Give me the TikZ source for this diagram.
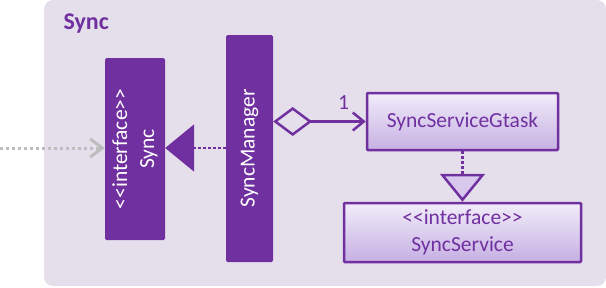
\documentclass[tikz,border=0pt]{standalone}
\usepackage{fontspec}
\setmainfont{Carlito}[Ligatures=TeXOff]
\usetikzlibrary{arrows.meta}
\definecolor{umlpurple}{HTML}{7030A0}
\definecolor{pkgbg}{HTML}{E5DFEC}
\definecolor{boxtop}{HTML}{F1ECF9}
\definecolor{boxbot}{HTML}{C6B0E3}
\definecolor{headfill}{HTML}{D8C8EE}
\definecolor{extgray}{HTML}{BDBDBD}
\tikzset{
  darkclass/.style={draw=none, fill=umlpurple, rounded corners=1.5pt,
    text=white, inner sep=0pt},
  classfont/.style={font=\fontsize{21.5}{27}\selectfont},
  lightclass/.style={draw=umlpurple, line width=2.5pt, top color=boxtop,
    bottom color=boxbot, text=umlpurple, rounded corners=1pt,
    classfont, align=center, inner sep=0pt},
  dotline/.style={umlpurple, line width=2.5pt, dash pattern=on 2.5pt off 2.5pt},
  assoc/.style={umlpurple, line width=2.5pt},
}
\begin{document}
\begin{tikzpicture}[x=1pt, y=-1pt]
\useasboundingbox (0,0) rectangle (606,287);
% package frame
\fill[pkgbg, rounded corners=9pt] (44,0) rectangle (606,286);
\node[anchor=west, text=umlpurple, font=\fontsize{24}{27}\selectfont\bfseries] (pkg) at (60,24) {Sync};

% classes
\node[darkclass, minimum width=60pt, minimum height=182pt] (sync) at (135,149) {};
\node[rotate=90, text=white, align=center, font=\fontsize{21.5}{27}\selectfont] (synclbl) at (sync.center) {<<interface>>\\Sync};
\node[darkclass, minimum width=47pt, minimum height=227pt] (mgr) at (249.5,148.5) {};
\node[rotate=90, text=white, classfont] (mgrlbl) at (mgr.center) {SyncManager};
\node[lightclass, minimum width=191pt, minimum height=57pt] (gtask) at (462.5,121.5) {SyncServiceGtask};
\node[lightclass, minimum width=237pt, minimum height=59pt] (svc) at (462.5,232.5) {<<interface>>\\SyncService};

% external dependency on the interface
\coordinate (ext) at (0,148);
\draw[extgray, line width=3pt, dash pattern=on 3pt off 3pt,
  -{Straight Barb[length=12pt, width=18pt, line width=3pt]}] (ext) -- (sync.west |- ext);

% realization: SyncManager -> Sync
\draw[dotline, -{Triangle[length=29pt, width=47pt, fill=umlpurple]}] (mgr.west |- 0,148) -- (sync.east |- 0,148);

% aggregation: SyncManager -> SyncServiceGtask
\draw[assoc, {Diamond[open, length=39pt, width=29pt, fill=pkgbg]}-{Straight Barb[length=11pt, width=18pt]}]
  (mgr.east |- gtask.west) -- (gtask.west) node[pos=0.76, above=7pt, text=umlpurple, classfont] (mult) {1};

% realization: SyncServiceGtask -> SyncService
\draw[dotline, -{Triangle[open, length=28pt, width=45pt, fill=headfill]}] (gtask.south) -- (svc.north);
\end{tikzpicture}
\end{document}
